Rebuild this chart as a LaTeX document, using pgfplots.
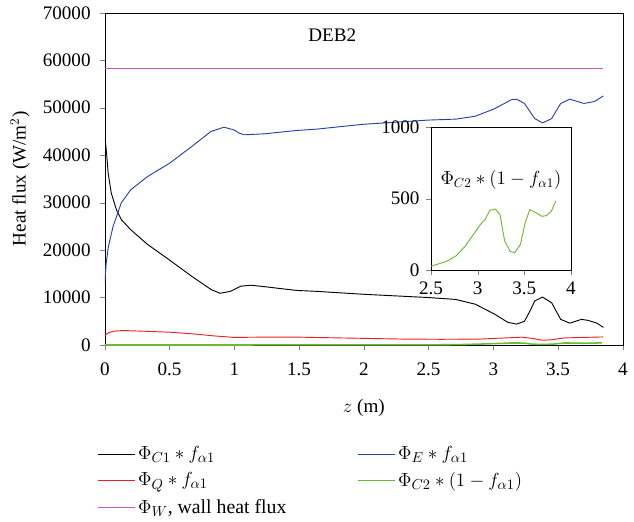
\documentclass[border=0pt]{standalone}
\usepackage{pgfplots}
\pgfplotsset{compat=1.18}
\usepackage{fontspec}
\setmainfont{Liberation Serif}

\definecolor{cblue}{RGB}{35,65,170}
\definecolor{cred}{RGB}{235,30,35}
\definecolor{cmag}{RGB}{205,85,200}
\definecolor{cgreen}{RGB}{110,185,50}

\begin{document}
\fontsize{14.5}{17}\selectfont
\begin{tikzpicture}
\begin{axis}[
    scale only axis,
    width=393pt, height=252pt,
    xmin=0, xmax=4, ymin=0, ymax=70000,
    xtick={0,0.5,...,4},
    ytick={0,10000,...,70000},
    scaled y ticks=false,
    /pgf/number format/1000 sep={},
    /pgf/number format/assume math mode=true,
    tick align=outside,
    xtick pos=bottom, ytick pos=left,
    major tick length=3.75pt,
    tick label style={font=\fontsize{14.5}{17}\selectfont},
    yticklabel style={xshift=-2pt},
    xticklabel style={yshift=-4.5pt},
    label style={font=\fontsize{14.5}{17}\selectfont},
    xlabel={$z$ (m)},
    ylabel={Heat flux (W/m$^2$)},
    xlabel style={yshift=-8pt},
    legend columns=2,
    legend cell align=left,
    legend style={draw=none, at={(-0.022,-0.288)}, anchor=north west,
        font=\fontsize{15}{17}\selectfont, row sep=3.5pt,
        /tikz/every even column/.append style={column sep=52pt}},
    legend image code/.code={\draw[#1] (0pt,0pt) -- (28pt,0pt);},
    every axis plot/.append style={line width=0.8pt},
]
\addplot[black, line width=0.7pt] coordinates {
 (0,43000) (0.005,42900) (0.018,39000) (0.026,36200) (0.05,32000) (0.09,28500)
 (0.128,26400) (0.2,24300) (0.33,21200) (0.5,17900) (0.67,14500) (0.82,11700)
 (0.89,10900) (0.97,11300) (1.02,12000) (1.05,12400) (1.13,12600) (1.23,12300)
 (1.48,11500) (1.64,11300) (1.99,10700) (2.5,10000) (2.71,9600) (2.86,8600)
 (3.01,6500) (3.11,4800) (3.18,4400) (3.24,5000) (3.28,7000) (3.32,9300)
 (3.38,10100) (3.45,8900) (3.52,5400) (3.59,4600) (3.68,5400) (3.73,5200)
 (3.8,4600) (3.85,3700)
};
\addlegendentry{$\Phi_{C1}\ast f_{\alpha1}$}
\addplot[cblue, line width=0.7pt] coordinates {
 (0,13000) (0.01,17000) (0.026,20500) (0.064,25000) (0.128,30000) (0.2,32700)
 (0.33,35500) (0.5,38300) (0.67,41800) (0.82,45000) (0.92,45900) (1.0,45300)
 (1.04,44600) (1.08,44300) (1.23,44500) (1.48,45200) (1.64,45500) (1.99,46500)
 (2.5,47400) (2.71,47600) (2.86,48200) (3.01,49800) (3.14,51700) (3.18,51800)
 (3.24,50900) (3.32,47700) (3.38,46800) (3.45,47700) (3.52,50900) (3.59,51800)
 (3.70,50900) (3.78,51300) (3.85,52500)
};
\addlegendentry{$\Phi_{E}\ast f_{\alpha1}$}
\addplot[cred, line width=0.7pt] coordinates {
 (0,2000) (0.03,2600) (0.08,2950) (0.15,3050) (0.3,2900) (0.5,2700) (0.7,2300)
 (0.85,1900) (1.0,1600) (1.2,1650) (1.5,1650) (1.8,1500) (2.0,1400) (2.3,1250)
 (2.6,1200) (2.9,1250) (3.1,1500) (3.22,1650) (3.3,1400) (3.38,1000) (3.45,1100)
 (3.55,1500) (3.7,1600) (3.85,1700)
};
\addlegendentry{$\Phi_{Q}\ast f_{\alpha1}$}
\addplot[cgreen, line width=1.2pt, forget plot] coordinates {
 (0,5) (1,8) (2,15) (2.52,30) (2.66,58) (2.77,99) (2.87,169) (2.98,272)
 (3.03,319) (3.08,353) (3.13,418) (3.19,427) (3.24,388) (3.29,203) (3.35,129)
 (3.40,122) (3.46,180) (3.51,330) (3.56,423) (3.62,404) (3.69,376) (3.74,381)
 (3.79,411) (3.84,485)
};
\addlegendimage{cgreen, line width=0.8pt}
\addlegendentry{$\Phi_{C2}\ast(1-f_{\alpha1})$}
\addplot[cmag, line width=0.7pt] coordinates {(0,58300) (3.85,58300)};
\addlegendentry{$\Phi_{W}$, wall heat flux}
\node at (axis cs:1.756,65200) {DEB2};
\coordinate (leftedge) at (rel axis cs:-0.2023,0);
\end{axis}
\path (leftedge);

\begin{axis}[
    at={(247.5pt,57pt)}, anchor=south west,
    scale only axis,
    width=106pt, height=108pt,
    xmin=2.5, xmax=4, ymin=0, ymax=1000,
    xtick={2.5,3,3.5,4}, ytick={0,500,1000},
    /pgf/number format/1000 sep={},
    /pgf/number format/assume math mode=true,
    tick align=outside,
    xtick pos=bottom, ytick pos=left,
    major tick length=3.75pt,
    tick label style={font=\fontsize{14.5}{17}\selectfont},
    axis background/.style={fill=white},
]
\addplot[cgreen, line width=0.7pt] coordinates {
 (2.5,25) (2.52,30) (2.66,58) (2.77,99) (2.87,169) (2.98,272)
 (3.03,319) (3.08,353) (3.13,418) (3.19,427) (3.24,388) (3.29,203) (3.35,129)
 (3.40,122) (3.46,180) (3.51,330) (3.56,423) (3.62,404) (3.69,376) (3.74,381)
 (3.79,411) (3.84,485)
};
\node[font=\fontsize{14.5}{17}\selectfont] at (axis cs:3.25,630) {$\Phi_{C2}\ast(1-f_{\alpha1})$};
\end{axis}
\end{tikzpicture}
\end{document}
